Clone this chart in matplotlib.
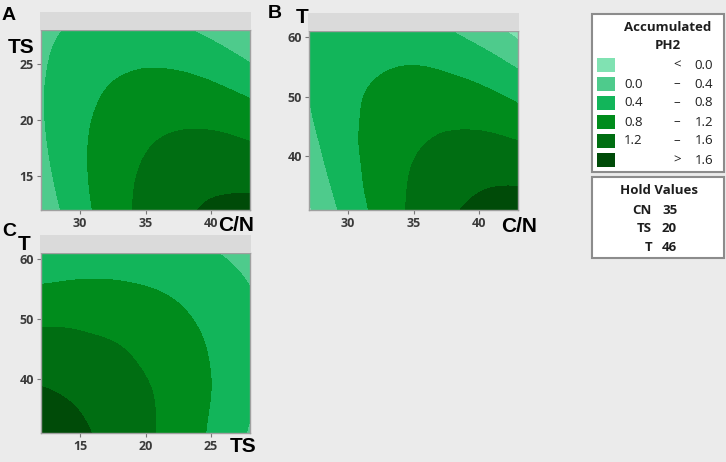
import numpy as np
import matplotlib
matplotlib.use("Agg")
import matplotlib.pyplot as plt
import matplotlib.tri as mtri
from matplotlib.patches import Rectangle

CN_GRID = [27, 29, 31, 33, 35, 37, 39, 41, 43]
TS_GRID = [12, 14, 16, 18, 20, 22, 24, 26, 28]
T_GRID = [31, 34.75, 38.5, 42.25, 46, 49.75, 53.5, 57.25, 61]

# accumulated PH2 x100, panel A (rows: TS ascending, cols: C/N ascending), T held at 46
PH2_CN_TS = [
    [12, 49, 81, 108, 131, 148, 160, 168, 171],
    [21, 55, 84, 108, 128, 142, 152, 156, 156],
    [28, 59, 85, 106, 123, 134, 141, 143, 140],
    [33, 61, 84, 102, 116, 125, 128, 127, 121],
    [36, 61, 81, 97, 107, 113, 114, 110, 101],
    [37, 59, 76, 89, 97, 100, 97, 90, 79],
    [36, 55, 70, 79, 84, 84, 79, 69, 54],
    [33, 50, 61, 68, 70, 67, 59, 46, 28],
    [28, 42, 51, 55, 54, 48, 37, 21, 1],
]
# panel B (rows: T ascending, cols: C/N ascending), TS held at 20
PH2_CN_T = [
    [-5, 36, 71, 102, 127, 147, 163, 173, 178],
    [8, 45, 77, 103, 125, 142, 153, 160, 161],
    [19, 52, 80, 103, 121, 134, 142, 145, 143],
    [28, 57, 82, 101, 115, 124, 129, 128, 122],
    [35, 61, 81, 97, 107, 113, 113, 109, 99],
    [40, 62, 79, 91, 97, 99, 96, 88, 74],
    [43, 61, 74, 82, 86, 84, 77, 65, 48],
    [44, 58, 68, 72, 72, 66, 55, 40, 19],
    [43, 54, 59, 60, 56, 46, 32, 13, -12],
]
# panel C (rows: T ascending, cols: TS ascending), C/N held at 35
PH2_TS_T = [
    [180, 171, 159, 144, 127, 108, 87, 63, 36],
    [172, 164, 154, 141, 126, 109, 89, 67, 43],
    [161, 155, 147, 136, 123, 108, 90, 70, 48],
    [147, 143, 137, 128, 117, 104, 88, 70, 50],
    [132, 130, 125, 119, 110, 98, 84, 68, 50],
    [114, 114, 111, 107, 100, 90, 78, 64, 48],
    [93, 95, 95, 92, 87, 80, 70, 58, 43],
    [71, 75, 77, 76, 73, 67, 59, 49, 36],
    [46, 52, 56, 57, 56, 52, 46, 38, 27],
]

LEVELS = [-100, 0, 0.4, 0.8, 1.2, 1.6, 100]
LEVEL_COLORS = ["#80e2b2", "#4ecb8c", "#12b55a", "#008c1c", "#006e12", "#004b08"]
LEGEND_LOW = ["", "0.0", "0.4", "0.8", "1.2", ""]
LEGEND_SEP = ["<", "\u2013", "\u2013", "\u2013", "\u2013", ">"]
LEGEND_HIGH = ["0.0", "0.4", "0.8", "1.2", "1.6", "1.6"]
HOLD_NAMES = ["CN", "TS", "T"]
HOLD_VALUES = [35, 20, 46]

BG = "#ebebeb"
W, H = 726, 462
TICK_FONT = dict(family="Open Sans", size=9, weight="bold", color="#3a3a3a")
BIG_FONT = dict(family="Liberation Sans", weight="bold", color="black")
LEG_FONT = dict(family="Open Sans", size=9.5, color="#1e1e1e")

fig = plt.figure(figsize=(W / 100, H / 100), dpi=100, facecolor=BG)


def box(x0, y0, x1, y1, **kw):
    fig.patches.append(Rectangle((x0 / W, 1 - y1 / H), (x1 - x0) / W, (y1 - y0) / H,
                                 transform=fig.transFigure, **kw))


def panel(x0, y0, x1, y1, xs, ys, z, xticks, yticks):
    box(x0 - 1, y0 - 18, x1 + 1, y0, facecolor="#dadada", edgecolor="none")
    ax = fig.add_axes([x0 / W, 1 - y1 / H, (x1 - x0) / W, (y1 - y0) / H])
    gx, gy = np.meshgrid(xs, ys)
    tri = mtri.Triangulation(gx.ravel(), gy.ravel())
    fine, zf = mtri.UniformTriRefiner(tri).refine_field(np.ravel(z) / 100, subdiv=3)
    ax.tricontourf(fine, zf, levels=LEVELS, colors=LEVEL_COLORS)
    ax.set_xlim(xs[0], xs[-1])
    ax.set_ylim(ys[0], ys[-1])
    ax.set_xticks(xticks)
    ax.set_yticks(yticks)
    ax.tick_params(length=3, width=0.8, color="#777777", pad=2)
    for lab in ax.get_xticklabels() + ax.get_yticklabels():
        lab.set(**TICK_FONT)
    for s in ax.spines.values():
        s.set_color("#a0a0a0")
        s.set_linewidth(1.0)
    return ax


panel(41, 30, 250, 210, CN_GRID, TS_GRID, PH2_CN_TS, [30, 35, 40], [15, 20, 25])
panel(309, 31, 518, 210, CN_GRID, T_GRID, PH2_CN_T, [30, 35, 40], [40, 50, 60])
panel(41, 253, 250, 433, TS_GRID, T_GRID, PH2_TS_T, [15, 20, 25], [40, 50, 60])


def label(x, y, s, size):
    fig.text(x / W, 1 - y / H, s, fontsize=size, ha="left", va="baseline", **BIG_FONT)


label(2, 20, "A", 14)
label(268, 18, "B", 14)
label(2, 236, "C", 14)
label(8, 53, "TS", 15)
label(296, 23, "T", 15)
label(18, 250, "T", 15)
label(218, 231, "C/N", 15)
label(501, 232, "C/N", 15)
label(230, 452, "TS", 15)

# colour key
box(592, 14, 724, 172, facecolor="white", edgecolor="#8c8c8c", linewidth=1.5)
fig.text(668 / W, 1 - 31 / H, "Accumulated", ha="center", weight="bold", **LEG_FONT)
fig.text(668 / W, 1 - 49 / H, "PH2", ha="center", weight="bold", **LEG_FONT)
for i, c in enumerate(LEVEL_COLORS):
    yc = 65 + i * 19
    box(597, yc - 7, 615, yc + 7, facecolor=c, edgecolor="none")
    fig.text(624 / W, 1 - yc / H, LEGEND_LOW[i], va="center", ha="left", **LEG_FONT)
    fig.text(677 / W, 1 - yc / H, LEGEND_SEP[i], va="center", ha="center", **LEG_FONT)
    fig.text(713 / W, 1 - yc / H, LEGEND_HIGH[i], va="center", ha="right", **LEG_FONT)

# hold values
box(592, 177, 724, 258, facecolor="white", edgecolor="#8c8c8c", linewidth=1.5)
fig.text(659 / W, 1 - 190 / H, "Hold Values", ha="center", va="center", weight="bold", **LEG_FONT)
for i, (n, v) in enumerate(zip(HOLD_NAMES, HOLD_VALUES)):
    yc = 210 + i * 18.5
    fig.text(652 / W, 1 - yc / H, n, ha="right", va="center", weight="bold", **LEG_FONT)
    fig.text(662 / W, 1 - yc / H, str(v), ha="left", va="center", weight="bold", **LEG_FONT)

fig.savefig("out.png", facecolor=BG)
